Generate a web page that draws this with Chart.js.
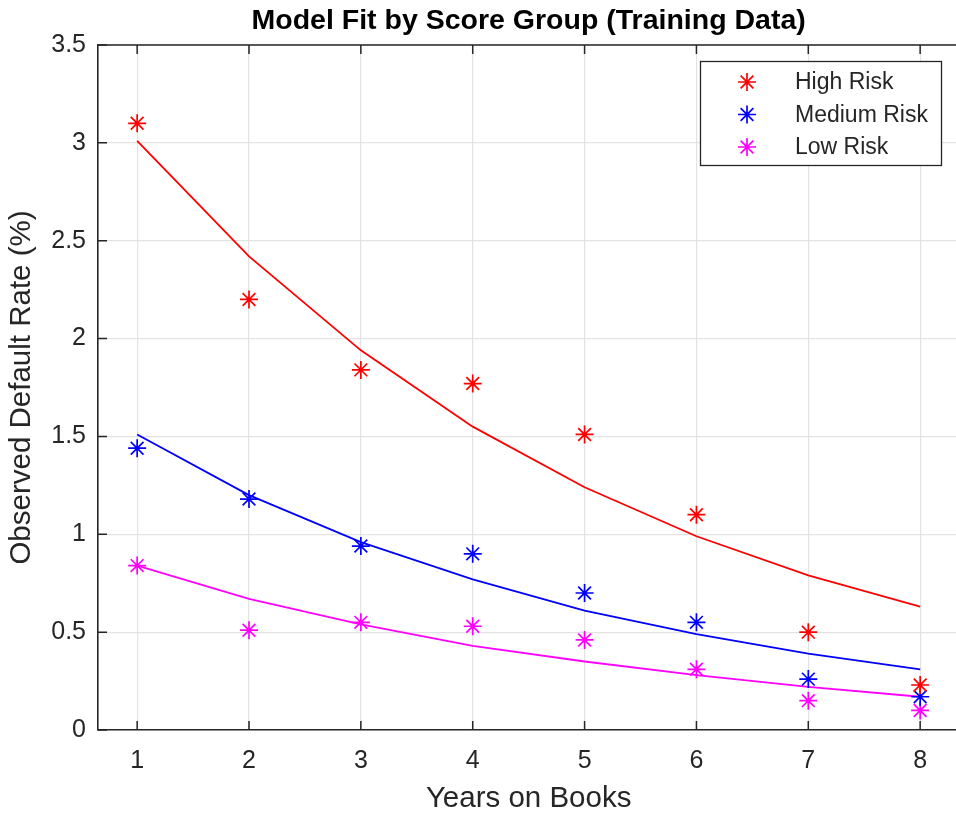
<!DOCTYPE html>
<html>
<head>
<meta charset="utf-8">
<script src="https://cdn.jsdelivr.net/npm/chart.js@4/dist/chart.umd.min.js"></script>
<style>
  html, body { margin: 0; padding: 0; background: #fff; overflow: hidden; }
  #wrap { position: relative; width: 970px; height: 820px; }
</style>
</head>
<body>
<div id="wrap"><canvas id="c"></canvas></div>
<script>
// ---- data ----
const years = [1, 2, 3, 4, 5, 6, 7, 8];
const highObserved = [3.10, 2.20, 1.84, 1.77, 1.51, 1.10, 0.50, 0.23];
const mediumObserved = [1.44, 1.18, 0.94, 0.90, 0.70, 0.55, 0.26, 0.17];
const lowObserved = [0.84, 0.51, 0.55, 0.53, 0.46, 0.31, 0.15, 0.10];
const highFit = [3.01, 2.42, 1.94, 1.55, 1.24, 0.99, 0.79, 0.63];
const mediumFit = [1.51, 1.20, 0.96, 0.77, 0.61, 0.49, 0.39, 0.31];
const lowFit = [0.84, 0.67, 0.54, 0.43, 0.35, 0.28, 0.22, 0.17];
const seriesNames = ['High Risk', 'Medium Risk', 'Low Risk'];
const xTickValues = [1, 2, 3, 4, 5, 6, 7, 8];
const yTickValues = [0, 0.5, 1, 1.5, 2, 2.5, 3, 3.5];
const yTickLabels = ['0', '0.5', '1', '1.5', '2', '2.5', '3', '3.5'];
const chartTitle = 'Model Fit by Score Group (Training Data)';
const xTitle = 'Years on Books';
const yTitle = 'Observed Default Rate (%)';

const colors = ['#ff0000', '#0000ff', '#ff00ff'];
const FONT = '"Liberation Sans", Arial, Helvetica, sans-serif';
const AX = '#262626';

function pts(ys) { return years.map((x, i) => ({ x: x, y: ys[i] })); }

const observed = [highObserved, mediumObserved, lowObserved];
const fits = [highFit, mediumFit, lowFit];

const datasets = [];
observed.forEach((arr, i) => {
  datasets.push({
    label: seriesNames[i],
    data: pts(arr),
    showLine: false,
    pointStyle: 'star',
    pointRadius: 9,
    pointHoverRadius: 9,
    pointBorderWidth: 1.7,
    borderColor: colors[i],
    backgroundColor: colors[i]
  });
});
fits.forEach((arr, i) => {
  datasets.push({
    label: seriesNames[i] + ' fit',
    data: pts(arr),
    showLine: true,
    pointRadius: 0,
    pointHoverRadius: 0,
    borderWidth: 1.8,
    borderColor: colors[i],
    backgroundColor: colors[i],
    tension: 0
  });
});

const decor = {
  id: 'decor',
  afterDraw(chart) {
    const ctx = chart.ctx;
    const a = chart.chartArea;
    const xs = chart.scales.x, ys = chart.scales.y;
    ctx.save();
    // title
    ctx.fillStyle = '#000';
    ctx.font = 'bold 28.5px ' + FONT;
    ctx.textAlign = 'center';
    ctx.textBaseline = 'middle';
    ctx.fillText(chartTitle, (a.left + a.right) / 2, 21);

    // top border
    ctx.strokeStyle = AX;
    ctx.lineWidth = 1.6;
    ctx.beginPath();
    ctx.moveTo(a.left, a.top);
    ctx.lineTo(a.right, a.top);
    ctx.stroke();

    // inward ticks
    const TL = 9;
    ctx.lineWidth = 1.5;
    ctx.beginPath();
    xTickValues.forEach(v => {
      const px = xs.getPixelForValue(v);
      ctx.moveTo(px, a.bottom); ctx.lineTo(px, a.bottom - TL);
      ctx.moveTo(px, a.top); ctx.lineTo(px, a.top + TL);
    });
    yTickValues.forEach(v => {
      const py = ys.getPixelForValue(v);
      ctx.moveTo(a.left, py); ctx.lineTo(a.left + TL, py);
    });
    ctx.stroke();

    // legend box
    const bx = 700, by = 61, bw = 241, bh = 104;
    ctx.fillStyle = '#fff';
    ctx.fillRect(bx, by, bw, bh);
    ctx.strokeStyle = AX;
    ctx.lineWidth = 1.3;
    ctx.strokeRect(bx + 0.5, by + 0.5, bw, bh);
    const rows = [82, 114.5, 147];
    ctx.font = '23px ' + FONT;
    ctx.textAlign = 'left';
    ctx.textBaseline = 'middle';
    seriesNames.forEach((name, i) => {
      ctx.strokeStyle = colors[i];
      ctx.fillStyle = colors[i];
      ctx.lineWidth = 1.7;
      Chart.helpers.drawPoint(ctx, { pointStyle: 'star', radius: 9, rotation: 0, borderWidth: 1.7 }, 747, rows[i]);
      ctx.fillStyle = AX;
      ctx.fillText(name, 795, rows[i] + 1);
    });
    ctx.restore();
  }
};

new Chart(document.getElementById('c'), {
  type: 'scatter',
  data: { datasets: datasets },
  options: {
    responsive: true,
    maintainAspectRatio: false,
    animation: false,
    events: [],
    layout: { padding: { top: 45, right: 4, left: 0, bottom: 0 } },
    plugins: {
      legend: { display: false },
      title: { display: false },
      tooltip: { enabled: false }
    },
    scales: {
      x: {
        type: 'linear',
        min: 0.65,
        max: 8.35,
        afterBuildTicks: s => { s.ticks = xTickValues.map(v => ({ value: v })); },
        afterFit: s => { s.height = 90; },
        ticks: {
          font: { family: FONT, size: 25 },
          color: AX,
          padding: 16,
          maxRotation: 0,
          callback: v => String(v)
        },
        grid: { color: '#e3e3e3', lineWidth: 1.2, drawTicks: false },
        border: { display: true, color: AX, width: 1.6 },
        title: {
          display: true,
          text: xTitle,
          color: AX,
          font: { family: FONT, size: 29.5 },
          padding: { top: 0, bottom: 3 }
        }
      },
      y: {
        type: 'linear',
        min: 0,
        max: 3.5,
        afterBuildTicks: s => { s.ticks = yTickValues.map(v => ({ value: v })); },
        afterFit: s => { s.width = 98; },
        ticks: {
          font: { family: FONT, size: 25 },
          color: AX,
          padding: 12,
          callback: (v) => { const k = yTickValues.indexOf(v); return k >= 0 ? yTickLabels[k] : ''; }
        },
        grid: { color: '#e3e3e3', lineWidth: 1.2, drawTicks: false },
        border: { display: true, color: AX, width: 1.6 },
        title: {
          display: true,
          text: yTitle,
          color: AX,
          font: { family: FONT, size: 29.5 },
          padding: { top: 4, bottom: 0 }
        }
      }
    }
  },
  plugins: [decor]
});
</script>
</body>
</html>
